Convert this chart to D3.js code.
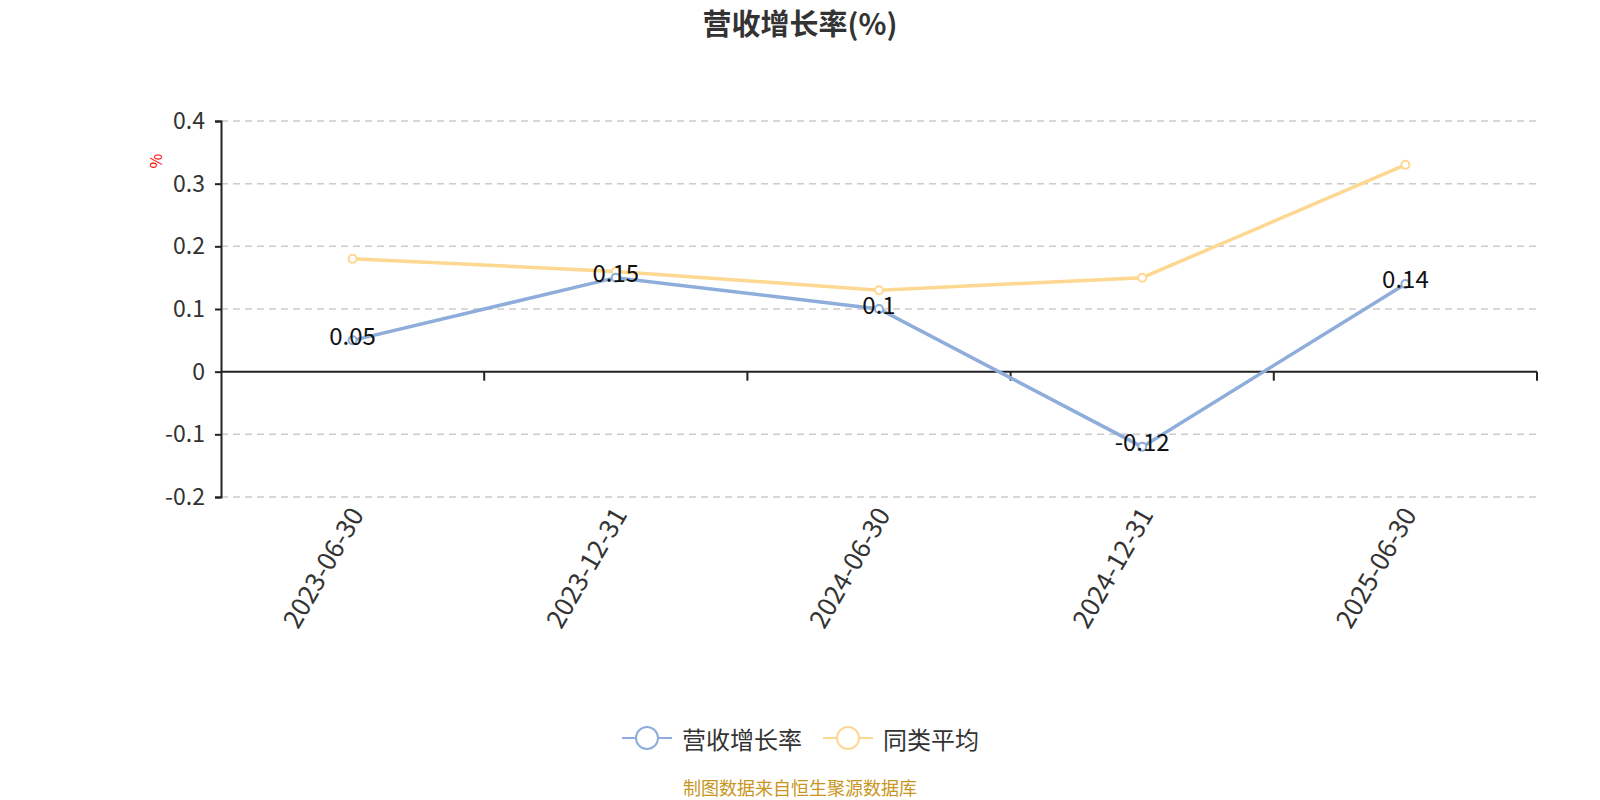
<!DOCTYPE html>
<html>
<head>
<meta charset="utf-8">
<script src="https://cdn.jsdelivr.net/npm/d3@7"></script>
<style>
  body { margin: 0; background: #fff; }
  text { font-family: "Noto Sans CJK SC", "Noto Sans", sans-serif; }
</style>
</head>
<body>
<div id="chart"></div>
<script>
// data
var dates = ["2023-06-30", "2023-12-31", "2024-06-30", "2024-12-31", "2025-06-30"];
var growth = [0.05, 0.15, 0.1, -0.12, 0.14];
var peerAvg = [0.18, 0.16, 0.13, 0.15, 0.33];
var yTicks = [-0.2, -0.1, 0, 0.1, 0.2, 0.3, 0.4];
var seriesNames = ["营收增长率", "同类平均"];
var colors = ["#8eaddb", "#fed891"];

var width = 1600, height = 800;
var margin = {left: 221, right: 63, top: 121, bottom: 303};

var svg = d3.select("#chart").append("svg")
    .attr("width", width)
    .attr("height", height);

var x = d3.scaleBand()
    .domain(dates)
    .range([margin.left, width - margin.right]);

var y = d3.scaleLinear()
    .domain([-0.2, 0.4])
    .range([height - margin.bottom, margin.top]);

// title
svg.append("text")
    .attr("x", width / 2)
    .attr("y", 35)
    .attr("text-anchor", "middle")
    .attr("font-size", "29px")
    .attr("font-weight", "bold")
    .attr("fill", "#333")
    .text("营收增长率(%)");

// grid lines
svg.append("g")
    .selectAll("line")
    .data(yTicks.filter(d => d !== 0))
    .enter()
    .append("line")
    .attr("x1", margin.left)
    .attr("x2", width - margin.right)
    .attr("y1", d => y(d))
    .attr("y2", d => y(d))
    .attr("stroke", "#ccc")
    .attr("stroke-width", 1.5)
    .attr("stroke-dasharray", "7,5");

// y axis
var yAxis = svg.append("g")
    .attr("transform", "translate(" + margin.left + ",0)")
    .call(d3.axisLeft(y).tickValues(yTicks).tickSize(6).tickPadding(10).tickFormat(d => String(+d.toFixed(1))));
yAxis.select(".domain").attr("stroke", "#222").attr("stroke-width", 2);
yAxis.selectAll(".tick line").attr("stroke", "#222").attr("stroke-width", 2);
yAxis.selectAll(".tick text")
    .attr("font-size", "23px")
    .attr("fill", "#333")
    .style("font-family", "'Noto Sans CJK SC', sans-serif");

// unit label
svg.append("text")
    .attr("transform", "translate(162,161) rotate(-90)")
    .attr("text-anchor", "middle")
    .attr("font-size", "16px")
    .attr("fill", "red")
    .text("%");

// x axis at zero
var xAxisG = svg.append("g")
    .attr("transform", "translate(0," + y(0) + ")");
xAxisG.append("line")
    .attr("x1", margin.left)
    .attr("x2", width - margin.right)
    .attr("stroke", "#222")
    .attr("stroke-width", 2);
xAxisG.selectAll(".xtick")
    .data(dates)
    .enter()
    .append("line")
    .attr("x1", d => x(d) + x.bandwidth())
    .attr("x2", d => x(d) + x.bandwidth())
    .attr("y1", 0)
    .attr("y2", 9)
    .attr("stroke", "#222")
    .attr("stroke-width", 2);

// x labels at bottom of grid
svg.append("g")
    .selectAll("text")
    .data(dates)
    .enter()
    .append("text")
    .attr("transform", d => "translate(" + (x(d) + x.bandwidth() / 2 + 6) + "," + (y(-0.2) + 14) + ") rotate(-60)")
    .attr("text-anchor", "end")
    .attr("dominant-baseline", "middle")
    .attr("font-size", "26px")
    .attr("fill", "#333")
    .text(d => d);

var cx = d => x(d) + x.bandwidth() / 2;

var line = d3.line()
    .x(d => cx(d.date))
    .y(d => y(d.value));

var series = [
    dates.map((d, i) => ({date: d, value: growth[i]})),
    dates.map((d, i) => ({date: d, value: peerAvg[i]}))
];

// draw peer avg first, then growth on top
[1, 0].forEach(function (s) {
    svg.append("path")
        .datum(series[s])
        .attr("d", line)
        .attr("fill", "none")
        .attr("stroke", colors[s])
        .attr("stroke-width", 3.5);

    svg.append("g")
        .selectAll("circle")
        .data(series[s])
        .enter()
        .append("circle")
        .attr("cx", d => cx(d.date))
        .attr("cy", d => y(d.value))
        .attr("r", 4)
        .attr("fill", "#fff")
        .attr("stroke", colors[s])
        .attr("stroke-width", 2);
});

// data labels for growth series
svg.append("g")
    .selectAll("text")
    .data(series[0])
    .enter()
    .append("text")
    .attr("x", d => cx(d.date))
    .attr("y", d => y(d.value) - 2)
    .attr("text-anchor", "middle")
    .attr("dominant-baseline", "middle")
    .attr("font-size", "24px")
    .attr("fill", "#111")
    .text(d => d.value);

// legend
var legendItems = [
    {name: seriesNames[0], color: colors[0], x: 622},
    {name: seriesNames[1], color: colors[1], x: 823}
];
var lg = svg.append("g")
    .selectAll("g")
    .data(legendItems)
    .enter()
    .append("g")
    .attr("transform", d => "translate(" + d.x + ",738)");
lg.append("line")
    .attr("x1", 0)
    .attr("x2", 50)
    .attr("stroke", d => d.color)
    .attr("stroke-width", 2);
lg.append("circle")
    .attr("cx", 25)
    .attr("r", 11)
    .attr("fill", "#fff")
    .attr("stroke", d => d.color)
    .attr("stroke-width", 2);
lg.append("text")
    .attr("x", 60)
    .attr("y", 0)
    .attr("dominant-baseline", "central")
    .attr("font-size", "24px")
    .attr("fill", "#333")
    .text(d => d.name);

// footer
svg.append("text")
    .attr("x", width / 2)
    .attr("y", 795)
    .attr("text-anchor", "middle")
    .attr("font-size", "18px")
    .attr("fill", "#c8961e")
    .text("制图数据来自恒生聚源数据库");
</script>
</body>
</html>
